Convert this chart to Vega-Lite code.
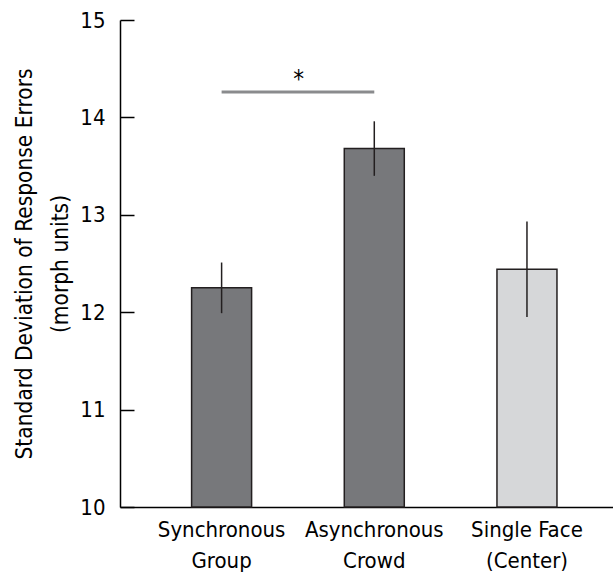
{
  "$schema": "https://vega.github.io/schema/vega-lite/v6.json",
  "width": 493,
  "height": 487,
  "autosize": {"type": "none"},
  "padding": {"left": 120, "top": 20, "right": 0, "bottom": 66},
  "background": "white",
  "config": {
    "view": {"stroke": null},
    "font": "DejaVu Sans Condensed",
    "axis": {"labelFont": "DejaVu Sans Condensed", "titleFont": "DejaVu Sans Condensed", "labelColor": "black", "titleColor": "black", "domainColor": "black", "tickColor": "black", "grid": false}
  },
  "datasets": {
    "bars": [
      {"condition": "Synchronous Group", "sd": 12.25, "lo": 11.99, "hi": 12.51, "kind": "dark"},
      {"condition": "Asynchronous Crowd", "sd": 13.68, "lo": 13.40, "hi": 13.96, "kind": "dark"},
      {"condition": "Single Face (Center)", "sd": 12.44, "lo": 11.95, "hi": 12.93, "kind": "light"}
    ],
    "sig": [
      {"from": "Synchronous Group", "to": "Asynchronous Crowd", "y": 14.26, "star": 14.38, "label": "*"}
    ]
  },
  "layer": [
    {
      "data": {"name": "bars"},
      "mark": {"type": "bar", "stroke": "#231f20", "strokeWidth": 1.5},
      "encoding": {
        "x": {
          "field": "condition", "type": "nominal",
          "sort": ["Synchronous Group", "Asynchronous Crowd", "Single Face (Center)"],
          "scale": {"domain": ["Synchronous Group", "Asynchronous Crowd", "Single Face (Center)"], "paddingInner": 0.607, "paddingOuter": 0.418, "align": 0.561},
          "axis": {
            "title": null, "labelAngle": 0, "ticks": false, "domainWidth": 1.5,
            "labelFontSize": 22, "labelLineHeight": 31, "labelPadding": 12,
            "labelExpr": "datum.value == 'Single Face (Center)' ? ['Single Face', '(Center)'] : split(datum.value, ' ')"
          }
        },
        "y": {
          "field": "sd", "type": "quantitative",
          "scale": {"domain": [10, 15], "zero": false, "nice": false},
          "axis": {
            "values": [10, 11, 12, 13, 14, 15], "format": "d",
            "title": ["Standard Deviation of Response Errors", "(morph units)"],
            "titleFontSize": 22.5, "titleFontWeight": "normal", "titleLineHeight": 36, "titlePadding": 7,
            "labelFontSize": 22, "labelPadding": 29, "tickSize": -14, "tickWidth": 1.5, "domainWidth": 1.5
          }
        },
        "y2": {"datum": 10},
        "fill": {
          "field": "kind", "type": "nominal",
          "scale": {"domain": ["dark", "light"], "range": ["#77787b", "#d6d7d9"]},
          "legend": null
        }
      }
    },
    {
      "data": {"name": "bars"},
      "mark": {"type": "rule", "color": "#231f20", "strokeWidth": 1.5},
      "encoding": {
        "x": {"field": "condition", "type": "nominal", "sort": ["Synchronous Group", "Asynchronous Crowd", "Single Face (Center)"]},
        "y": {"field": "lo", "type": "quantitative"},
        "y2": {"field": "hi"}
      }
    },
    {
      "data": {"name": "sig"},
      "mark": {"type": "rule", "color": "#8a8b8d", "strokeWidth": 3},
      "encoding": {
        "x": {"field": "from", "type": "nominal", "sort": ["Synchronous Group", "Asynchronous Crowd", "Single Face (Center)"]},
        "x2": {"field": "to"},
        "y": {"field": "y", "type": "quantitative"}
      }
    },
    {
      "data": {"name": "sig"},
      "mark": {"type": "text", "fontSize": 24, "dx": 77, "color": "black", "baseline": "middle"},
      "encoding": {
        "x": {"field": "from", "type": "nominal", "sort": ["Synchronous Group", "Asynchronous Crowd", "Single Face (Center)"]},
        "y": {"field": "star", "type": "quantitative"},
        "text": {"field": "label"}
      }
    }
  ]
}
